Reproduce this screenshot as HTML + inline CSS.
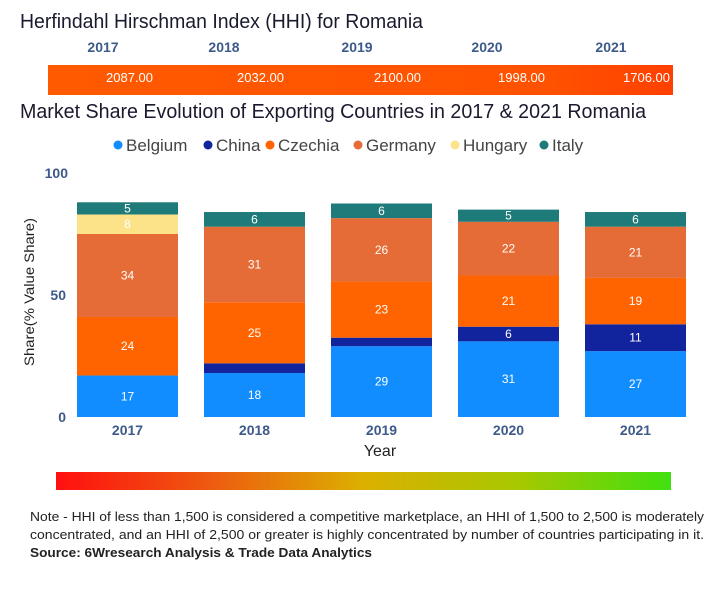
<!DOCTYPE html>
<html><head><meta charset="utf-8"><style>
body{margin:0;background:#fff;}
svg{display:block;font-family:"Liberation Sans",sans-serif;}
</style></head><body>
<svg id="c" width="707" height="600" viewBox="0 0 707 600">
<defs>
<linearGradient id="hg" x1="0" x2="1"><stop offset="0" stop-color="#ff5a00"/><stop offset="0.8" stop-color="#ff5200"/><stop offset="1" stop-color="#ff4000"/></linearGradient>
<linearGradient id="sg" x1="0" x2="1"><stop offset="0" stop-color="#ff1010"/><stop offset="0.25" stop-color="#ee5a10"/><stop offset="0.5" stop-color="#dcb000"/><stop offset="0.75" stop-color="#a8c800"/><stop offset="1" stop-color="#40e010"/></linearGradient>
</defs>
<text x="20" y="28" font-size="20" fill="#1a1a2e" textLength="403" lengthAdjust="spacingAndGlyphs">Herfindahl Hirschman Index (HHI) for Romania</text>
<g id="hhi"></g>
<text x="20" y="118" font-size="20" fill="#1a1a2e" textLength="626" lengthAdjust="spacingAndGlyphs">Market Share Evolution of Exporting Countries in 2017 &amp; 2021 Romania</text>
<g id="legend"></g>
<g id="axes"></g>
<g id="bars"></g>
<text x="380" y="456" font-size="16" fill="#222" text-anchor="middle">Year</text>
<text transform="translate(34,292) rotate(-90)" font-size="14" fill="#222" text-anchor="middle" textLength="148" lengthAdjust="spacingAndGlyphs">Share(% Value Share)</text>
<rect x="56" y="472" width="615" height="18" fill="url(#sg)"/>
<text x="30" y="521" font-size="13" fill="#222" textLength="674" lengthAdjust="spacingAndGlyphs">Note - HHI of less than 1,500 is considered a competitive marketplace, an HHI of 1,500 to 2,500 is moderately</text>
<text x="30" y="539" font-size="13" fill="#222" textLength="674" lengthAdjust="spacingAndGlyphs">concentrated, and an HHI of 2,500 or greater is highly concentrated by number of countries participating in it.</text>
<text x="30" y="557" font-size="13" font-weight="bold" fill="#222" textLength="342" lengthAdjust="spacingAndGlyphs">Source: 6Wresearch Analysis &amp; Trade Data Analytics</text>
</svg>
<script>
const years = ["2017","2018","2019","2020","2021"];
const hhiValues = [2087.00, 2032.00, 2100.00, 1998.00, 1706.00];
const countries = ["Belgium","China","Czechia","Germany","Hungary","Italy"];
const belgium = [17, 18, 29, 31, 27];
const china = [0, 4, 3.5, 6, 11];
const czechia = [24, 25, 23, 21, 19];
const germany = [34, 31, 26, 22, 21];
const hungary = [8, 0, 0, 0, 0];
const italy = [5, 6, 6, 5, 6];
const yTicks = [0, 50, 100];
const colors = ["#118dff","#12239e","#ff6400","#e66c37","#fce38a","#1f7a7a"];
const series = [belgium, china, czechia, germany, hungary, italy];
const NS = "http://www.w3.org/2000/svg";
function mk(tag, attrs, parent, txt){const e=document.createElementNS(NS,tag);for(const k in attrs)e.setAttribute(k,attrs[k]);if(txt!==undefined)e.textContent=txt;parent.appendChild(e);return e;}
const y0 = 417, pxPer = 2.44;
const yS = v => y0 - v*pxPer;
const bandStart = 77, bandStep = 127, barW = 101;
const xS = i => bandStart + i*bandStep;
const hhi = document.getElementById("hhi");
const hb = mk("rect",{x:48,y:65,width:625,height:30,fill:"url(#hg)"},hhi);


const hhiYearX = [103, 224, 357, 487, 611];
const hhiValX = [153, 284, 421, 545, 670];
years.forEach((yr,i)=>{
  const t = mk("text",{x:hhiYearX[i],y:52,"font-size":14,"font-weight":"bold",fill:"#3d5a8a","text-anchor":"middle"},hhi,yr);
  
  
  const v = mk("text",{x:hhiValX[i],y:82,"font-size":13,fill:"#fff","text-anchor":"end"},hhi,hhiValues[i].toFixed(2));
  
  
});
const lg = document.getElementById("legend");
const legX = [118, 208, 270, 358, 455, 544];
countries.forEach((c,i)=>{
  const g = mk("g",{},lg);
  
  
  mk("circle",{cx:legX[i],cy:145,r:4.5,fill:colors[i]},g);
  mk("text",{x:legX[i]+8,y:151,"font-size":17,fill:"#444"},g,c);
});
const ax = document.getElementById("axes");
yTicks.forEach(t=>{
  const e = mk("text",{x:t===100?68:66,y:yS(t)+5,"font-size":14,"font-weight":"bold",fill:"#3d5a8a","text-anchor":"end"},ax,String(t));
  
  
});
years.forEach((yr,i)=>{
  const e = mk("text",{x:xS(i)+barW/2,y:435,"font-size":14,"font-weight":"bold",fill:"#3d5a8a","text-anchor":"middle"},ax,yr);
  
  
});
const bars = document.getElementById("bars");
years.forEach((yr,i)=>{
  let cum = 0;
  series.forEach((s,k)=>{
    const v = s[i];
    if(v<=0) return;
    const top = yS(cum+v), bot = yS(cum);
    const r = mk("rect",{x:xS(i),y:top,width:barW,height:bot-top,fill:colors[k]},bars);
    
    
    if(v>=5){
      const t = mk("text",{x:xS(i)+barW/2,y:(top+bot)/2+4,"font-size":12,fill:"#fff","text-anchor":"middle"},bars,String(Math.round(v)));
      
      
    }
    cum += v;
  });
});
</script>
</body></html>
